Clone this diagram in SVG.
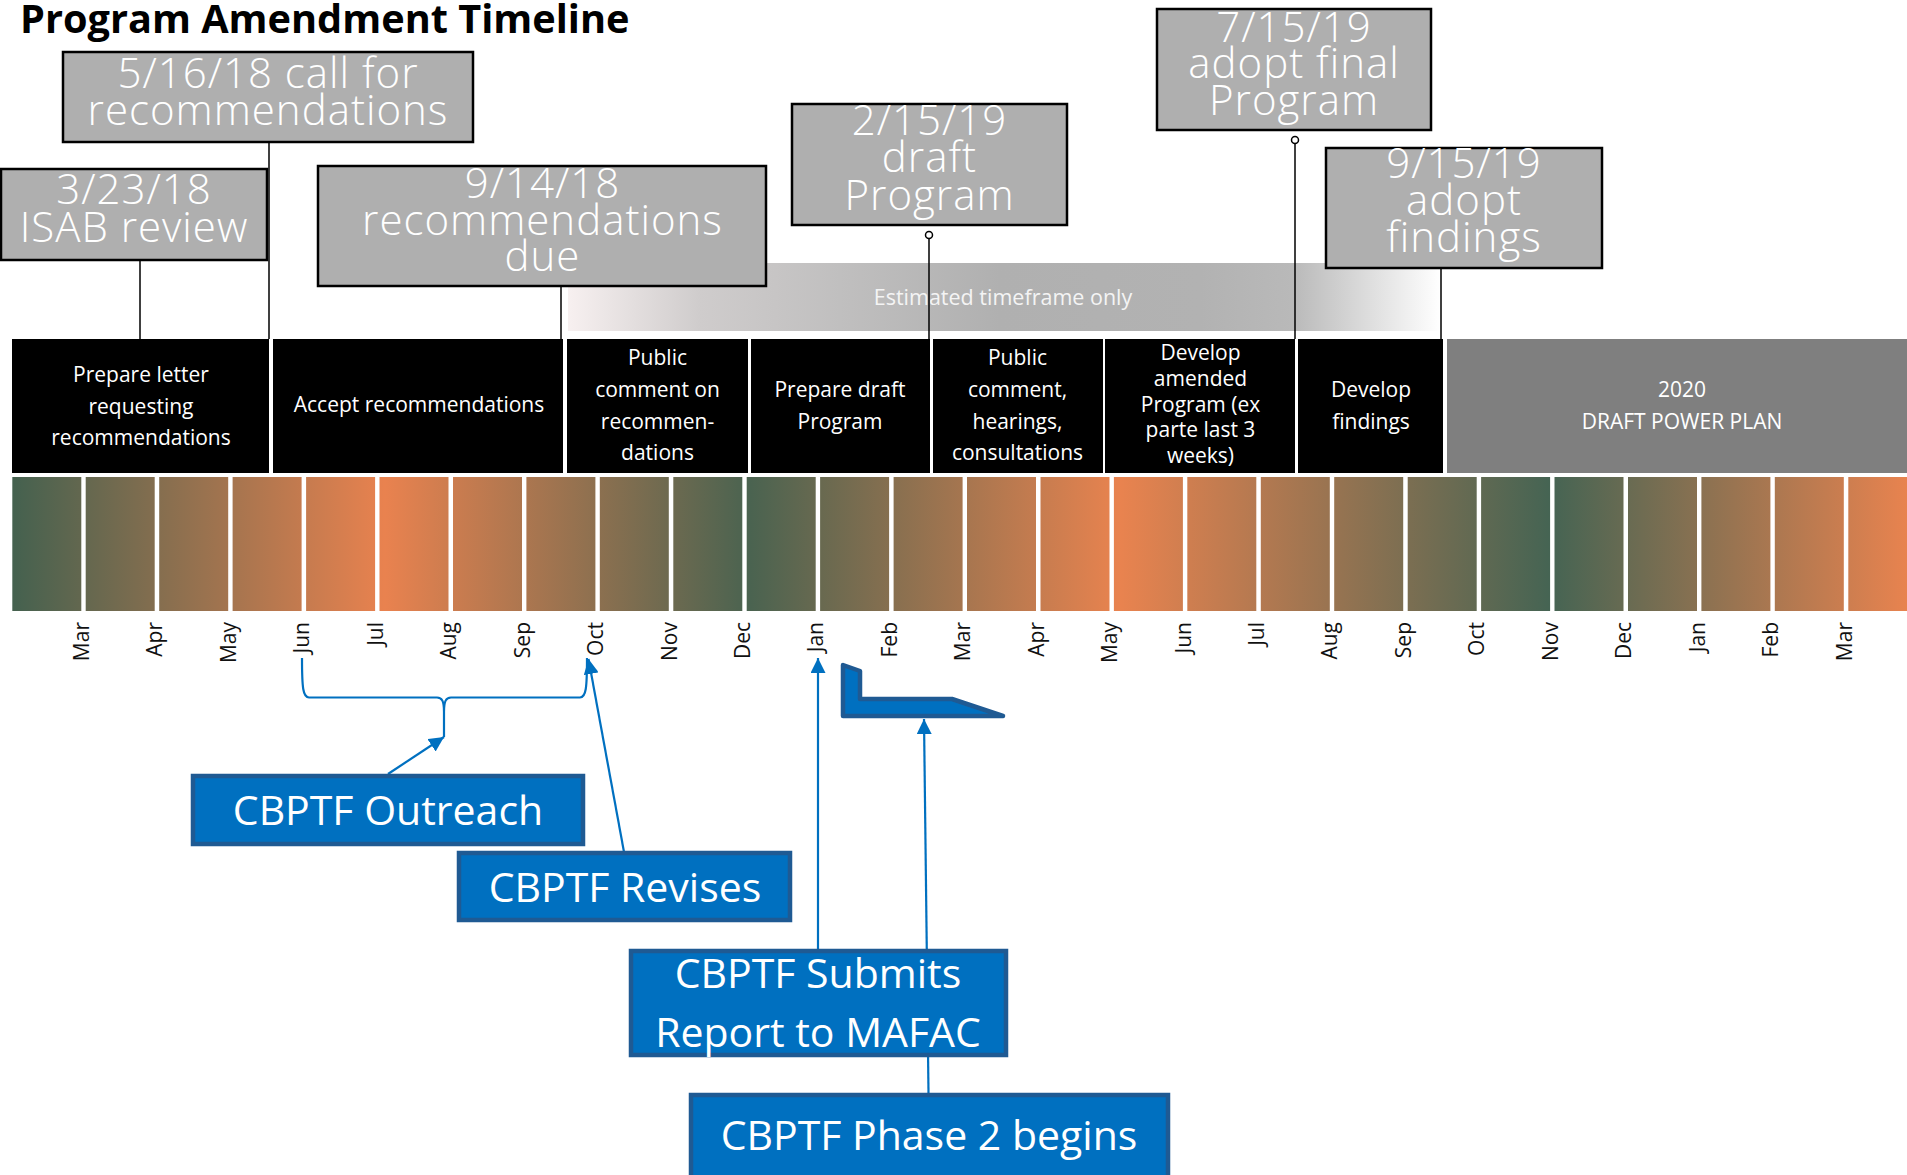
<svg xmlns="http://www.w3.org/2000/svg" width="1907" height="1175" viewBox="0 0 1907 1175">
<style>
.title{font-family:"Open Sans","Liberation Sans",sans-serif;font-weight:700;font-size:39.7px;fill:#000}
.gbox{fill:#afafaf;stroke:#000;stroke-width:2.5}
.gtxt{font-family:"Open Sans","Liberation Sans",sans-serif;font-weight:300;font-size:42px;letter-spacing:1px;fill:#fff;text-anchor:middle}
.seg{fill:#000}
.seg8{fill:#7f7f7f}
.ptxt{font-family:"Open Sans","Liberation Sans",sans-serif;font-size:21px;fill:#fff;text-anchor:middle}
.mbar{fill:url(#mg)}
.mtxt{font-family:"Open Sans","Liberation Sans",sans-serif;font-size:21px;fill:#111;text-anchor:end}
.band{fill:url(#bg)}
.btxt{font-family:"Open Sans","Liberation Sans",sans-serif;font-size:21.5px;fill:#f4f4f4;text-anchor:middle}
.bbox{fill:#0070c0;stroke:#1f5a93;stroke-width:4.5}
.bltxt{font-family:"Open Sans","Liberation Sans",sans-serif;font-size:41px;fill:#fff;text-anchor:middle}
.conn{stroke:#000;stroke-width:1.5;fill:none}
.dot{fill:#fff;stroke:#000;stroke-width:1.5}
.arr{stroke:#0070c0;stroke-width:2.2;fill:none;marker-end:url(#ah)}
.brace{stroke:#0070c0;stroke-width:2.2;fill:none}
</style>
<defs>
<linearGradient id="mg" gradientUnits="userSpaceOnUse" x1="0" y1="0" x2="1907" y2="0">
<stop offset="0" stop-color="#43614f"/>
<stop offset="0.0063" stop-color="#44614f"/>
<stop offset="0.2019" stop-color="#e9824f"/>
<stop offset="0.3933" stop-color="#4a6350"/>
<stop offset="0.5873" stop-color="#e9834f"/>
<stop offset="0.8128" stop-color="#456453"/>
<stop offset="1" stop-color="#e8834f"/>
</linearGradient>
<linearGradient id="bg" gradientUnits="userSpaceOnUse" x1="568" y1="0" x2="1440" y2="0">
<stop offset="0" stop-color="#f7f0f0"/>
<stop offset="0.151" stop-color="#cfcccc"/>
<stop offset="0.312" stop-color="#c0bfbf"/>
<stop offset="0.495" stop-color="#b0b0b0"/>
<stop offset="0.725" stop-color="#b2b2b2"/>
<stop offset="0.831" stop-color="#b9b9b9"/>
<stop offset="1" stop-color="#ffffff"/>
</linearGradient>
<marker id="ah" viewBox="0 0 10 10" refX="10" refY="5" markerWidth="15" markerHeight="15" markerUnits="userSpaceOnUse" orient="auto">
<path d="M0,0 L10,5 L0,10 z" fill="#0070c0"/>
</marker>
</defs>

<rect width="1907" height="1175" fill="#fff"/>

<text class="title" x="20" y="33">Program Amendment Timeline</text>

<g id="band">
<rect class="band" x="568" y="263" width="872" height="68"/>
<text class="btxt" x="1003" y="305">Estimated timeframe only</text>
</g>

<g id="month-bars">
<rect class="mbar" x="12.3" y="477" width="69" height="134"/>
<rect class="mbar" x="85.7" y="477" width="69" height="134"/>
<rect class="mbar" x="159.2" y="477" width="69" height="134"/>
<rect class="mbar" x="232.6" y="477" width="69" height="134"/>
<rect class="mbar" x="306.1" y="477" width="69" height="134"/>
<rect class="mbar" x="379.5" y="477" width="69" height="134"/>
<rect class="mbar" x="453" y="477" width="69" height="134"/>
<rect class="mbar" x="526.4" y="477" width="69" height="134"/>
<rect class="mbar" x="599.8" y="477" width="69" height="134"/>
<rect class="mbar" x="673.3" y="477" width="69" height="134"/>
<rect class="mbar" x="746.7" y="477" width="69" height="134"/>
<rect class="mbar" x="820.1" y="477" width="69" height="134"/>
<rect class="mbar" x="893.6" y="477" width="69" height="134"/>
<rect class="mbar" x="967" y="477" width="69" height="134"/>
<rect class="mbar" x="1040.5" y="477" width="69" height="134"/>
<rect class="mbar" x="1113.9" y="477" width="69" height="134"/>
<rect class="mbar" x="1187.3" y="477" width="69" height="134"/>
<rect class="mbar" x="1260.8" y="477" width="69" height="134"/>
<rect class="mbar" x="1334.2" y="477" width="69" height="134"/>
<rect class="mbar" x="1407.7" y="477" width="69" height="134"/>
<rect class="mbar" x="1481.1" y="477" width="69" height="134"/>
<rect class="mbar" x="1554.5" y="477" width="69" height="134"/>
<rect class="mbar" x="1628" y="477" width="69" height="134"/>
<rect class="mbar" x="1701.4" y="477" width="69" height="134"/>
<rect class="mbar" x="1774.8" y="477" width="69" height="134"/>
<rect class="mbar" x="1848.3" y="477" width="69" height="134"/>
</g>

<g id="month-labels">
<text class="mtxt" transform="translate(89,622) rotate(-90)">Mar</text>
<text class="mtxt" transform="translate(162.4,622) rotate(-90)">Apr</text>
<text class="mtxt" transform="translate(235.8,622) rotate(-90)">May</text>
<text class="mtxt" transform="translate(309.3,622) rotate(-90)">Jun</text>
<text class="mtxt" transform="translate(382.7,622) rotate(-90)">Jul</text>
<text class="mtxt" transform="translate(456.1,622) rotate(-90)">Aug</text>
<text class="mtxt" transform="translate(529.6,622) rotate(-90)">Sep</text>
<text class="mtxt" transform="translate(603,622) rotate(-90)">Oct</text>
<text class="mtxt" transform="translate(676.5,622) rotate(-90)">Nov</text>
<text class="mtxt" transform="translate(749.9,622) rotate(-90)">Dec</text>
<text class="mtxt" transform="translate(823.3,622) rotate(-90)">Jan</text>
<text class="mtxt" transform="translate(896.8,622) rotate(-90)">Feb</text>
<text class="mtxt" transform="translate(970.2,622) rotate(-90)">Mar</text>
<text class="mtxt" transform="translate(1043.7,622) rotate(-90)">Apr</text>
<text class="mtxt" transform="translate(1117.1,622) rotate(-90)">May</text>
<text class="mtxt" transform="translate(1190.5,622) rotate(-90)">Jun</text>
<text class="mtxt" transform="translate(1264,622) rotate(-90)">Jul</text>
<text class="mtxt" transform="translate(1337.4,622) rotate(-90)">Aug</text>
<text class="mtxt" transform="translate(1410.8,622) rotate(-90)">Sep</text>
<text class="mtxt" transform="translate(1484.3,622) rotate(-90)">Oct</text>
<text class="mtxt" transform="translate(1557.7,622) rotate(-90)">Nov</text>
<text class="mtxt" transform="translate(1631.2,622) rotate(-90)">Dec</text>
<text class="mtxt" transform="translate(1704.6,622) rotate(-90)">Jan</text>
<text class="mtxt" transform="translate(1778,622) rotate(-90)">Feb</text>
<text class="mtxt" transform="translate(1851.5,622) rotate(-90)">Mar</text>
</g>

<g id="phase-prepare-letter">
<rect class="seg" x="12" y="339" width="257" height="134"/>
<text class="ptxt" x="141" y="382">Prepare letter</text>
<text class="ptxt" x="141" y="413.5">requesting</text>
<text class="ptxt" x="141" y="445">recommendations</text>
</g>
<g id="phase-accept">
<rect class="seg" x="273" y="339" width="290" height="134"/>
<text class="ptxt" x="419" y="412">Accept recommendations</text>
</g>
<g id="phase-public-comment-recs">
<rect class="seg" x="567" y="339" width="181" height="134"/>
<text class="ptxt" x="657.5" y="365">Public</text>
<text class="ptxt" x="657.5" y="397">comment on</text>
<text class="ptxt" x="657.5" y="428.5">recommen-</text>
<text class="ptxt" x="657.5" y="460">dations</text>
</g>
<g id="phase-prepare-draft">
<rect class="seg" x="751" y="339" width="179" height="134"/>
<text class="ptxt" x="840" y="397">Prepare draft</text>
<text class="ptxt" x="840" y="428.5">Program</text>
</g>
<g id="phase-public-comment-hearings">
<rect class="seg" x="933" y="339" width="170" height="134"/>
<text class="ptxt" x="1017.5" y="365">Public</text>
<text class="ptxt" x="1017.5" y="397">comment,</text>
<text class="ptxt" x="1017.5" y="428.5">hearings,</text>
<text class="ptxt" x="1017.5" y="460">consultations</text>
</g>
<g id="phase-develop-amended">
<rect class="seg" x="1105" y="339" width="190" height="134"/>
<text class="ptxt" x="1200.5" y="360">Develop</text>
<text class="ptxt" x="1200.5" y="385.5">amended</text>
<text class="ptxt" x="1200.5" y="411.5">Program (ex</text>
<text class="ptxt" x="1200.5" y="437">parte last 3</text>
<text class="ptxt" x="1200.5" y="463">weeks)</text>
</g>
<g id="phase-develop-findings">
<rect class="seg" x="1298" y="339" width="145" height="134"/>
<text class="ptxt" x="1371" y="397">Develop</text>
<text class="ptxt" x="1371" y="428.5">findings</text>
</g>
<g id="phase-power-plan">
<rect class="seg8" x="1447" y="339" width="460" height="134"/>
<text class="ptxt" x="1682" y="397">2020</text>
<text class="ptxt" x="1682" y="428.5">DRAFT POWER PLAN</text>
</g>

<g id="connectors">
<line class="conn" x1="140" y1="261" x2="140" y2="339"/>
<line class="conn" x1="269" y1="143" x2="269" y2="339"/>
<line class="conn" x1="561" y1="287" x2="561" y2="339"/>
<line class="conn" x1="929" y1="238.5" x2="929" y2="339"/>
<circle class="dot" cx="929" cy="235" r="3.5"/>
<line class="conn" x1="1295" y1="143.5" x2="1295" y2="339"/>
<circle class="dot" cx="1295" cy="140" r="3.5"/>
<line class="conn" x1="1441" y1="269" x2="1441" y2="339"/>
<path class="brace" d="M302,658 C302,688 303,697.5 309,697.5 L437,697.5 C442,697.5 444,701 444,712 L444,737 M444,712 C444,701 446,697.5 451,697.5 L580,697.5 C586,697.5 587,688 587,658"/>
<line class="arr" x1="388" y1="774" x2="444" y2="737"/>
<line class="arr" x1="624" y1="852" x2="588.5" y2="659"/>
<line class="arr" x1="818" y1="949" x2="818" y2="658"/>
<line class="arr" x1="928.5" y1="1093" x2="924" y2="719"/>
</g>

<g id="ms-0516">
<rect class="gbox" x="63" y="52" width="410" height="90"/>
<text class="gtxt" x="268" y="88">5/16/18 call for</text>
<text class="gtxt" x="268" y="125">recommendations</text>
</g>
<g id="ms-0323">
<rect class="gbox" x="1" y="169" width="266" height="91"/>
<text class="gtxt" x="134" y="204">3/23/18</text>
<text class="gtxt" x="134" y="242">ISAB review</text>
</g>
<g id="ms-0914">
<rect class="gbox" x="318" y="166" width="448" height="120"/>
<text class="gtxt" x="542.5" y="198">9/14/18</text>
<text class="gtxt" x="542.5" y="235">recommendations</text>
<text class="gtxt" x="542.5" y="271">due</text>
</g>
<g id="ms-0215">
<rect class="gbox" x="792" y="104" width="275" height="121"/>
<text class="gtxt" x="929.5" y="135">2/15/19</text>
<text class="gtxt" x="929.5" y="172">draft</text>
<text class="gtxt" x="929.5" y="210">Program</text>
</g>
<g id="ms-0715">
<rect class="gbox" x="1157" y="9" width="274" height="121"/>
<text class="gtxt" x="1294" y="42">7/15/19</text>
<text class="gtxt" x="1294" y="78">adopt final</text>
<text class="gtxt" x="1294" y="115">Program</text>
</g>
<g id="ms-0915">
<rect class="gbox" x="1326" y="148" width="276" height="120"/>
<text class="gtxt" x="1464" y="178">9/15/19</text>
<text class="gtxt" x="1464" y="215">adopt</text>
<text class="gtxt" x="1464" y="252">findings</text>
</g>

<g id="l-marker">
<polygon points="843,665 860,671 860,699 952,699 1003,716 843,716" fill="#0070c0" stroke="#1f5a93" stroke-width="4.5" stroke-linejoin="round"/>
</g>

<g id="cbptf-outreach">
<rect class="bbox" x="193" y="776" width="390" height="68"/>
<text class="bltxt" x="388" y="825">CBPTF Outreach</text>
</g>
<g id="cbptf-revises">
<rect class="bbox" x="459" y="853" width="331" height="67"/>
<text class="bltxt" x="625" y="902">CBPTF Revises</text>
</g>
<g id="cbptf-submits">
<rect class="bbox" x="631" y="951" width="375" height="104"/>
<text class="bltxt" x="818" y="988">CBPTF Submits</text>
<text class="bltxt" x="818" y="1047">Report to MAFAC</text>
</g>
<g id="cbptf-phase2">
<rect class="bbox" x="691" y="1095" width="477" height="90"/>
<text class="bltxt" x="929" y="1150">CBPTF Phase 2 begins</text>
</g>
</svg>
